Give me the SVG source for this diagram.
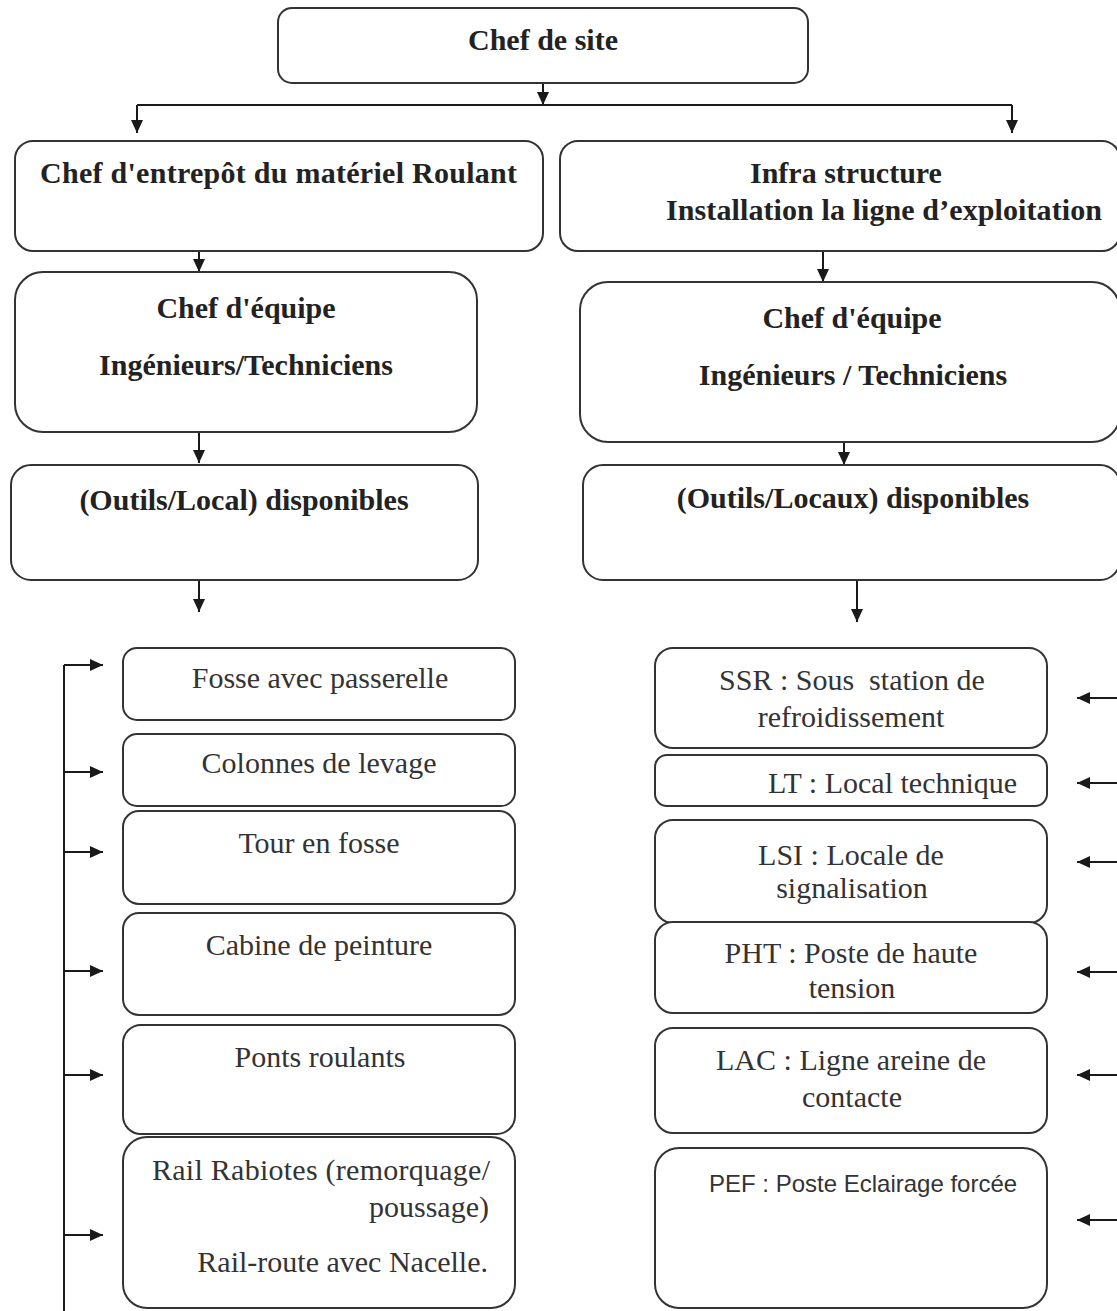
<svg xmlns="http://www.w3.org/2000/svg" width="1117" height="1311" viewBox="0 0 1117 1311">
<defs>
<marker id="ah" markerUnits="userSpaceOnUse" markerWidth="13" markerHeight="12" refX="13" refY="6" orient="auto">
<path d="M0,0 L13,6 L0,12 z" fill="#1a1a1a"/>
</marker>
</defs>
<style>
.box{fill:#fff;stroke:#333;stroke-width:2}
.b{font-family:"Liberation Serif","Times New Roman",serif;font-weight:bold;font-size:30px;fill:#222}
.r{font-family:"Liberation Serif","Times New Roman",serif;font-size:30px;fill:#333}
.s{font-family:"Liberation Sans",Arial,sans-serif;font-size:24px;fill:#333}
.c{text-anchor:middle}
.ln{fill:none;stroke:#1a1a1a;stroke-width:2}
.ar{fill:none;stroke:#1a1a1a;stroke-width:2;marker-end:url(#ah)}
</style>
<rect width="1117" height="1311" fill="#fff"/>

<g id="connectors">
<path class="ar" d="M543 83 V105"/>
<path class="ln" d="M137 105 H1012"/>
<path class="ar" d="M137 105 V133"/>
<path class="ar" d="M1012 105 V133"/>
<path class="ar" d="M199 252 V272"/>
<path class="ar" d="M823 252 V282"/>
<path class="ar" d="M199 415 V463"/>
<path class="ar" d="M844 442 V465"/>
<path class="ar" d="M199 563 V612"/>
<path class="ar" d="M857 575 V622"/>
<path class="ln" d="M64 665 V1311"/>
<path class="ar" d="M64 665 H103"/>
<path class="ar" d="M64 772 H103"/>
<path class="ar" d="M64 852 H103"/>
<path class="ar" d="M64 971 H103"/>
<path class="ar" d="M64 1075 H103"/>
<path class="ar" d="M64 1235 H103"/>
<path class="ar" d="M1117 698 H1077"/>
<path class="ar" d="M1117 783 H1077"/>
<path class="ar" d="M1117 862 H1077"/>
<path class="ar" d="M1117 972 H1077"/>
<path class="ar" d="M1117 1075 H1077"/>
<path class="ar" d="M1117 1220 H1077"/>
</g>

<g id="chef-site">
<rect class="box" x="278" y="8" width="530" height="75" rx="14"/>
<text class="b c" x="543" y="50">Chef de site</text>
</g>

<g id="chef-entrepot">
<rect class="box" x="15" y="141" width="528" height="110" rx="18"/>
<text class="b" x="40" y="183" textLength="477" lengthAdjust="spacing">Chef d'entrepôt du matériel Roulant</text>
</g>

<g id="infra">
<rect class="box" x="560" y="141" width="560" height="110" rx="18"/>
<text class="b" x="750" y="183">Infra structure</text>
<text class="b" x="666" y="220" textLength="436" lengthAdjust="spacing">Installation la ligne d’exploitation</text>
</g>

<g id="equipe-left">
<rect class="box" x="15" y="272" width="462" height="160" rx="28"/>
<text class="b c" x="246" y="318">Chef d'équipe</text>
<text class="b c" x="246" y="375">Ingénieurs/Techniciens</text>
</g>

<g id="equipe-right">
<rect class="box" x="580" y="282" width="540" height="160" rx="28"/>
<text class="b c" x="852" y="328">Chef d'équipe</text>
<text class="b c" x="853" y="385">Ingénieurs / Techniciens</text>
</g>

<g id="outils-left">
<rect class="box" x="11" y="465" width="467" height="115" rx="20"/>
<text class="b c" x="244" y="510">(Outils/Local) disponibles</text>
</g>

<g id="outils-right">
<rect class="box" x="583" y="465" width="537" height="115" rx="20"/>
<text class="b c" x="853" y="508">(Outils/Locaux) disponibles</text>
</g>

<g id="fosse">
<rect class="box" x="123" y="648" width="392" height="72" rx="14"/>
<text class="r c" x="320" y="688">Fosse avec passerelle</text>
</g>
<g id="colonnes">
<rect class="box" x="123" y="734" width="392" height="72" rx="14"/>
<text class="r c" x="319" y="773">Colonnes de levage</text>
</g>
<g id="tour">
<rect class="box" x="123" y="811" width="392" height="93" rx="16"/>
<text class="r c" x="319" y="853">Tour en fosse</text>
</g>
<g id="cabine">
<rect class="box" x="123" y="913" width="392" height="102" rx="16"/>
<text class="r c" x="319" y="955">Cabine de peinture</text>
</g>
<g id="ponts">
<rect class="box" x="123" y="1025" width="392" height="109" rx="18"/>
<text class="r c" x="320" y="1067">Ponts roulants</text>
</g>
<g id="rail">
<rect class="box" x="123" y="1137" width="392" height="171" rx="24"/>
<text class="r" x="152" y="1180" textLength="338" lengthAdjust="spacing">Rail Rabiotes (remorquage/</text>
<text class="r" x="489" y="1217" text-anchor="end">poussage)</text>
<text class="r" x="488" y="1272" text-anchor="end">Rail-route avec Nacelle.</text>
</g>

<g id="ssr">
<rect class="box" x="655" y="648" width="392" height="100" rx="18"/>
<text class="r c" x="852" y="690" xml:space="preserve">SSR : Sous  station de</text>
<text class="r c" x="851" y="727">refroidissement</text>
</g>
<g id="lt">
<rect class="box" x="655" y="755" width="392" height="51" rx="12"/>
<text class="r" x="768" y="793">LT : Local technique</text>
</g>
<g id="lsi">
<rect class="box" x="655" y="820" width="392" height="103" rx="18"/>
<text class="r c" x="851" y="865">LSI : Locale de</text>
<text class="r c" x="852" y="898">signalisation</text>
</g>
<g id="pht">
<rect class="box" x="655" y="922" width="392" height="91" rx="18"/>
<text class="r c" x="851" y="963">PHT : Poste de haute</text>
<text class="r c" x="852" y="998">tension</text>
</g>
<g id="lac">
<rect class="box" x="655" y="1028" width="392" height="105" rx="18"/>
<text class="r c" x="851" y="1070">LAC : Ligne areine de</text>
<text class="r c" x="852" y="1107">contacte</text>
</g>
<g id="pef">
<rect class="box" x="655" y="1148" width="392" height="160" rx="24"/>
<text class="s" x="709" y="1192">PEF : Poste Eclairage forcée</text>
</g>
</svg>
